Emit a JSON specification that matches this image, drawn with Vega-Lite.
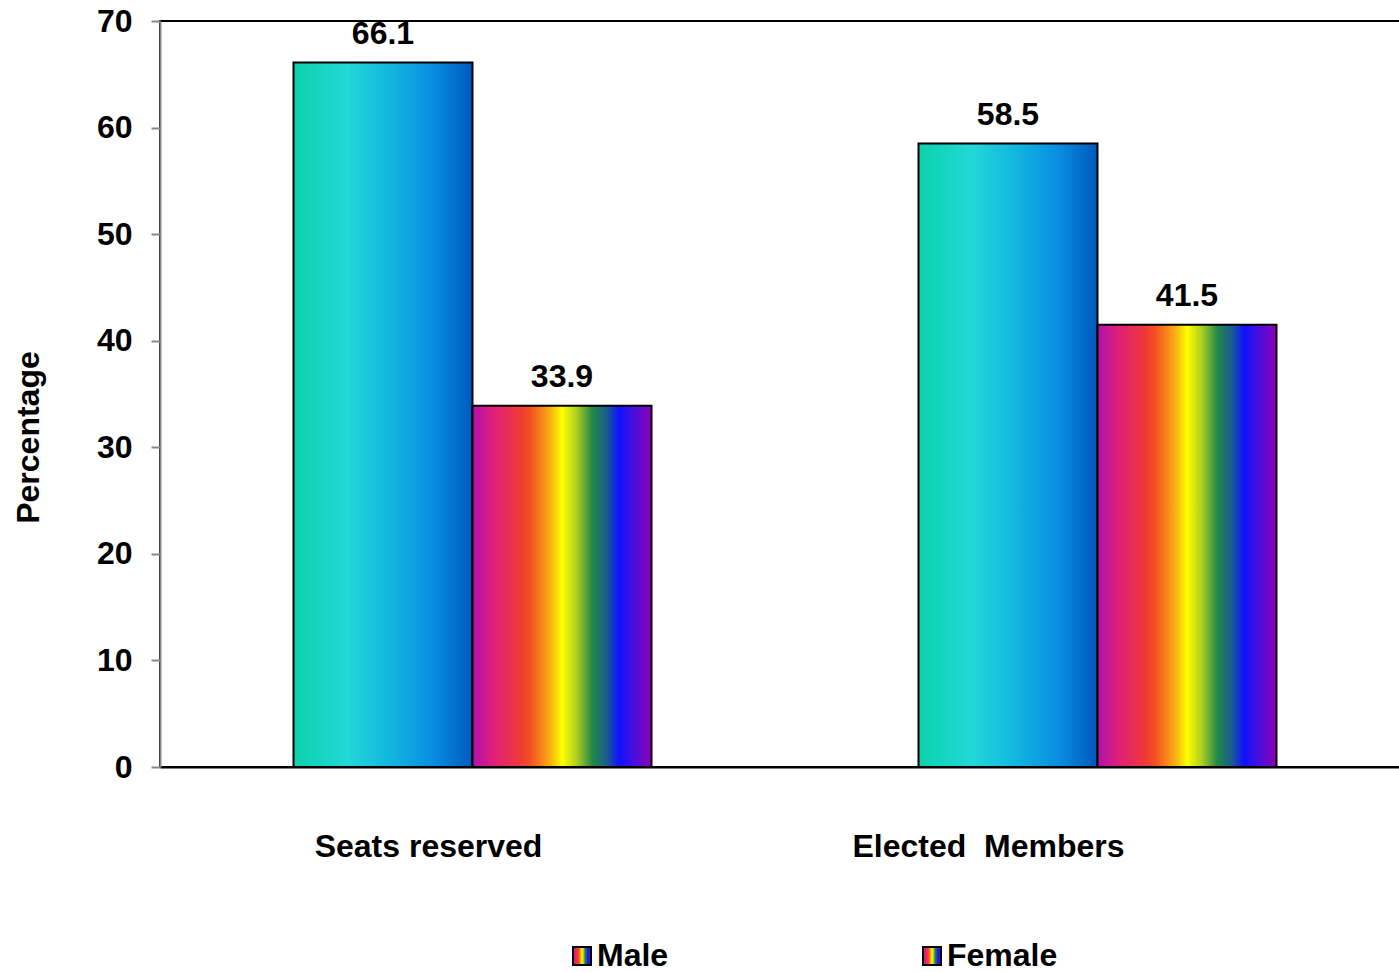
{
  "$schema": "https://vega.github.io/schema/vega-lite/v6.json",
  "width": 1250,
  "height": 746,
  "autosize": {"type": "none"},
  "padding": {"left": 160, "top": 21, "right": 0, "bottom": 205},
  "background": "#ffffff",
  "config": {
    "font": "Liberation Sans",
    "view": {"stroke": "#000000", "strokeWidth": 2}
  },
  "data": {
    "values": [
      {"category": "Seats reserved", "sex": "Male", "value": 66.1},
      {"category": "Seats reserved", "sex": "Female", "value": 33.9},
      {"category": "Elected\u00a0\u00a0Members", "sex": "Male", "value": 58.5},
      {"category": "Elected\u00a0\u00a0Members", "sex": "Female", "value": 41.5}
    ]
  },
  "encoding": {
    "x": {
      "field": "category",
      "type": "nominal",
      "sort": null,
      "scale": {"paddingInner": 0.4272, "paddingOuter": 0.2136},
      "axis": {
        "title": null,
        "labelAngle": 0,
        "labelLimit": 0,
        "ticks": false,
        "domainColor": "#000000",
        "domainWidth": 2,
        "labelFontSize": 32,
        "labelFontWeight": "bold",
        "labelColor": "#000000",
        "labelBaseline": "top",
        "labelPadding": 64,
        "labelOffset": {
          "condition": {"test": "datum.value === 'Seats reserved'", "value": -44},
          "value": -109
        }
      }
    },
    "xOffset": {
      "field": "sex",
      "type": "nominal",
      "scale": {"domain": ["Male", "Female"]}
    },
    "y": {
      "field": "value",
      "type": "quantitative",
      "scale": {"domain": [0, 70], "nice": false},
      "axis": {
        "title": "Percentage",
        "titleFontSize": 32,
        "titleFontWeight": "bold",
        "titleColor": "#000000",
        "titleX": -132,
        "titleY": 416,
        "titleBaseline": "middle",
        "titleAngle": -90,
        "values": [0, 10, 20, 30, 40, 50, 60, 70],
        "grid": false,
        "domainColor": "#888888",
        "domainWidth": 2,
        "tickColor": "#888888",
        "tickWidth": 2,
        "tickSize": 9,
        "labelFontSize": 32,
        "labelFontWeight": "bold",
        "labelColor": "#000000",
        "labelPadding": 19
      }
    }
  },
  "layer": [
    {
      "mark": {"type": "bar", "strokeWidth": 2},
      "encoding": {
        "fill": {
          "condition": {
            "test": "datum.sex === 'Male'",
            "value": {
              "gradient": "linear",
              "x1": 0, "y1": 0, "x2": 1, "y2": 0,
              "stops": [
                {"offset": 0, "color": "#0ad2ac"},
                {"offset": 0.3, "color": "#22d8d8"},
                {"offset": 0.55, "color": "#12b4e0"},
                {"offset": 0.78, "color": "#088ee2"},
                {"offset": 1, "color": "#0058bc"}
              ]
            }
          },
          "value": {
            "gradient": "linear",
            "x1": 0, "y1": 0, "x2": 1, "y2": 0,
            "stops": [
              {"offset": 0, "color": "#b010b0"},
              {"offset": 0.12, "color": "#e02078"},
              {"offset": 0.26, "color": "#f03838"},
              {"offset": 0.32, "color": "#f05020"},
              {"offset": 0.4, "color": "#f89018"},
              {"offset": 0.45, "color": "#f8c010"},
              {"offset": 0.5, "color": "#ffff00"},
              {"offset": 0.58, "color": "#b0d020"},
              {"offset": 0.67, "color": "#208848"},
              {"offset": 0.75, "color": "#1a5c90"},
              {"offset": 0.82, "color": "#1010ff"},
              {"offset": 0.89, "color": "#4010e0"},
              {"offset": 1, "color": "#9000b8"}
            ]
          }
        },
        "stroke": {
          "field": "sex",
          "type": "nominal",
          "scale": {"domain": ["Male", "Female"], "range": ["#000000", "#000000"]},
          "legend": {
            "title": null,
            "orient": "none",
            "legendX": 406,
            "legendY": 919,
            "direction": "horizontal",
            "symbolType": "square",
            "symbolSize": 324,
            "symbolStrokeWidth": 2,
            "labelFontSize": 32,
            "labelFontWeight": "bold",
            "labelColor": "#000000",
            "labelOffset": -1,
            "labelLimit": 0,
            "columnPadding": 247
          }
        }
      }
    },
    {
      "mark": {
        "type": "text",
        "font": "Liberation Sans",
        "fontSize": 32,
        "fontWeight": "bold",
        "color": "#000000",
        "baseline": "alphabetic",
        "dy": -19
      },
      "encoding": {
        "text": {"field": "value", "type": "quantitative", "format": ".1f"}
      }
    }
  ]
}
